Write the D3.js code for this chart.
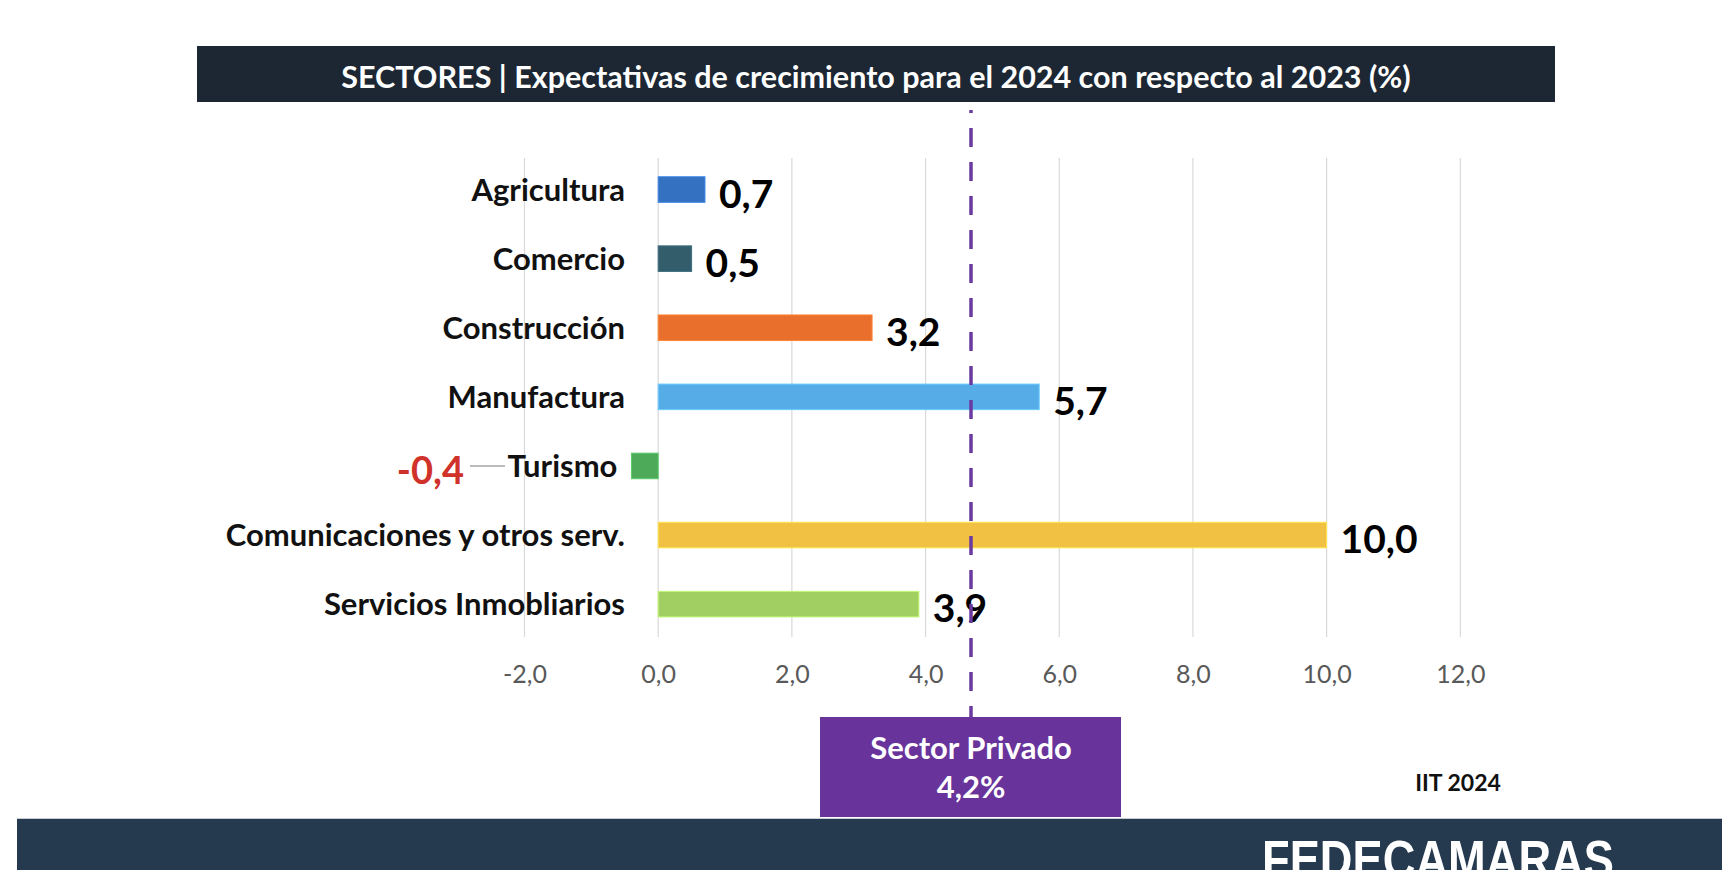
<!DOCTYPE html>
<html>
<head>
<meta charset="utf-8">
<script src="https://cdn.jsdelivr.net/npm/d3@7"></script>
<style>
  html, body { margin: 0; padding: 0; background: #ffffff; }
  svg { display: block; font-family: Lato, "Open Sans", sans-serif; }
</style>
</head>
<body>
<svg id="chart" width="1722" height="870"></svg>
<script>
// ---- data ----
const titleText = "SECTORES | Expectativas de crecimiento para el 2024 con respecto al 2023 (%)";
const categories = ["Agricultura", "Comercio", "Construcción", "Manufactura", "Turismo", "Comunicaciones y otros serv.", "Servicios Inmobliarios"];
const values = [0.7, 0.5, 3.2, 5.7, -0.4, 10.0, 3.9];
const tickValues = [-2, 0, 2, 4, 6, 8, 10, 12];
const refLineValue = 4.68;          // position of the dashed "Sector Privado" marker on the axis
const refLabel = ["Sector Privado", "4,2%"];
const sourceNote = "IIT 2024";
const footerText = "FEDECAMARAS";

// ---- styles ----
const barColors = ["#3471c1", "#345d6c", "#e96f2c", "#55ace6", "#4caa58", "#f0c142", "#a2cf62"];

const svg = d3.select("#chart");
const locale = d3.formatLocale({decimal: ",", thousands: ".", grouping: [3], currency: ["", ""], minus: "-"});
const fmt = locale.format(".1f");

const x = d3.scaleLinear().domain([-2, 12]).range([524.5, 1460.3]);
const y = d3.scaleBand().domain(categories).range([155, 638.7]).paddingInner(0.63).paddingOuter(0.315);

// title bar
svg.append("rect").attr("x", 197).attr("y", 46).attr("width", 1358).attr("height", 56).attr("fill", "#1c2733");
svg.append("text").attr("x", 876).attr("y", 77).attr("text-anchor", "middle").attr("dy", "0.35em")
  .attr("fill", "#ffffff").attr("font-weight", 700).attr("font-size", 30.5).text(titleText);

// gridlines
svg.append("g").selectAll("line").data(tickValues).join("line")
  .attr("x1", d => x(d)).attr("x2", d => x(d)).attr("y1", 158).attr("y2", 637)
  .attr("stroke", "#d9d9d9").attr("stroke-width", 1.2);

// axis tick labels
const axis = d3.axisBottom(x).tickValues(tickValues).tickFormat(fmt).tickSize(0).tickPadding(0);
const ax = svg.append("g").attr("transform", "translate(0,665)").call(axis);
ax.select(".domain").remove();
ax.selectAll("text").attr("font-family", "Lato, sans-serif").attr("font-size", 25).attr("fill", "#595959");

// bars
svg.append("g").selectAll("rect").data(values).join("rect")
  .attr("x", d => x(Math.min(0, d)))
  .attr("y", (d, i) => y(categories[i]))
  .attr("width", d => Math.abs(x(d) - x(0)))
  .attr("height", y.bandwidth())
  .attr("fill", (d, i) => barColors[i])
  .attr("stroke", (d, i) => d3.color(barColors[i]).brighter(0.5))
  .attr("stroke-width", 1);

// category labels
svg.append("g").selectAll("text").data(categories).join("text")
  .attr("x", (d, i) => values[i] < 0 ? x(values[i]) - 14 : 625)
  .attr("y", d => y(d) + y.bandwidth() / 2)
  .attr("dy", "0.36em")
  .attr("text-anchor", "end")
  .attr("font-weight", 700).attr("font-size", 31).attr("fill", "#111111")
  .text(d => d);

// value labels (positive)
const posIdx = values.map((v, i) => i).filter(i => values[i] >= 0);
svg.append("g").selectAll("text").data(posIdx).join("text")
  .attr("x", i => x(values[i]) + 14)
  .attr("y", i => y(categories[i]) + y.bandwidth() / 2 + 4)
  .attr("dy", "0.36em")
  .attr("font-weight", 700).attr("font-size", 39).attr("fill", "#000000")
  .text(i => fmt(values[i]));

// negative value label with leader line
const negIdx = values.map((v, i) => i).filter(i => values[i] < 0);
negIdx.forEach(i => {
  const cy = y(categories[i]) + y.bandwidth() / 2;
  svg.append("line").attr("x1", 470).attr("x2", 505).attr("y1", cy).attr("y2", cy)
    .attr("stroke", "#a6a6a6").attr("stroke-width", 1.5);
  svg.append("text").attr("x", 464).attr("y", cy + 4).attr("dy", "0.36em").attr("text-anchor", "end")
    .attr("font-weight", 700).attr("font-size", 38).attr("fill", "#d0322a").text(fmt(values[i]));
});

// dashed reference line
svg.append("line").attr("x1", x(refLineValue)).attr("x2", x(refLineValue)).attr("y1", 110).attr("y2", 717)
  .attr("stroke", "#6b3aa0").attr("stroke-width", 3.5).attr("stroke-dasharray", "19,15").attr("stroke-dashoffset", 16);

// reference box
const bx = x(refLineValue);
svg.append("rect").attr("x", bx - 151).attr("y", 717).attr("width", 301).attr("height", 100).attr("fill", "#68349b");
svg.append("text").attr("x", bx).attr("y", 748).attr("dy", "0.36em").attr("text-anchor", "middle")
  .attr("fill", "#ffffff").attr("font-weight", 700).attr("font-size", 31).text(refLabel[0]);
svg.append("text").attr("x", bx).attr("y", 787).attr("dy", "0.36em").attr("text-anchor", "middle")
  .attr("fill", "#ffffff").attr("font-weight", 700).attr("font-size", 31).text(refLabel[1]);

// source note
svg.append("text").attr("x", 1458).attr("y", 783).attr("dy", "0.36em").attr("text-anchor", "middle")
  .attr("font-weight", 700).attr("font-size", 23).attr("fill", "#111111").text(sourceNote);

// footer band
svg.append("line").attr("x1", 17).attr("x2", 1722).attr("y1", 818.5).attr("y2", 818.5).attr("stroke", "#c8ccd2").attr("stroke-width", 1);
svg.append("rect").attr("x", 17).attr("y", 819).attr("width", 1705).attr("height", 51).attr("fill", "#263a4f");
svg.append("text").attr("x", 1262).attr("y", 878)
  .attr("font-family", "'Liberation Sans', Arial, sans-serif").attr("font-weight", 700).attr("font-size", 53)
  .attr("textLength", 352).attr("lengthAdjust", "spacingAndGlyphs")
  .attr("fill", "#ffffff").text(footerText);
</script>
</body>
</html>
